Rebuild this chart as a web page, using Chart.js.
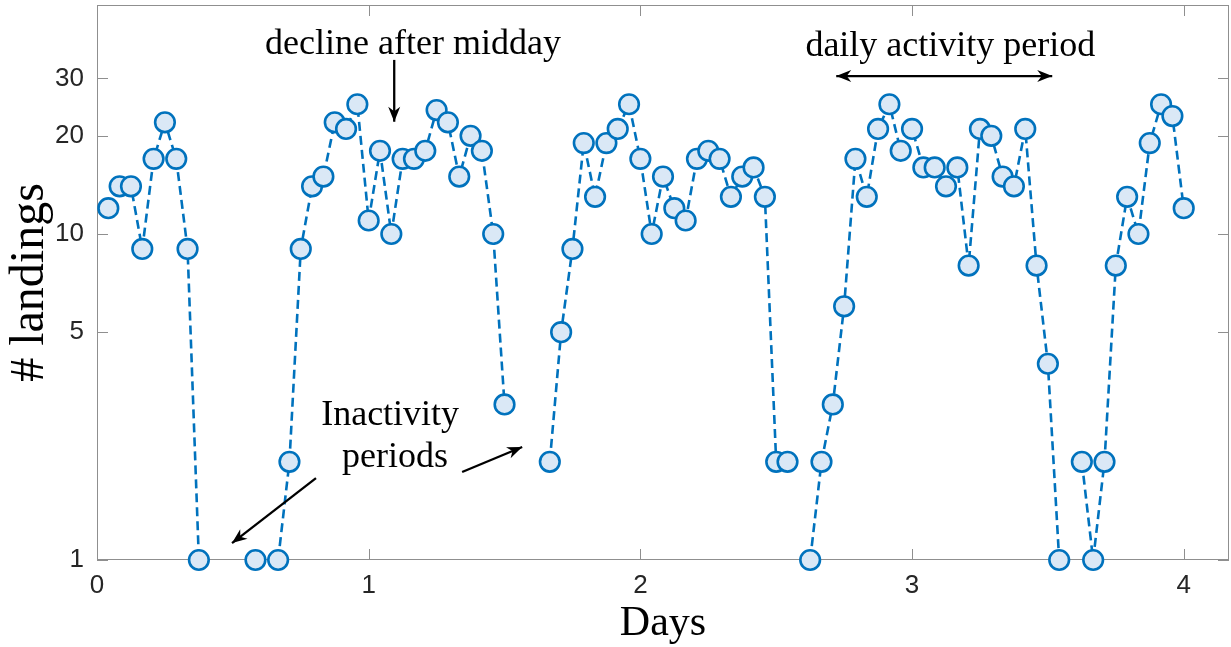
<!DOCTYPE html>
<html>
<head>
<meta charset="utf-8">
<script src="https://cdn.jsdelivr.net/npm/chart.js@4.4.1/dist/chart.umd.min.js"></script>
<style>
  html, body { margin: 0; padding: 0; background: #fff; }
  #wrap { width: 1231px; height: 647px; }
</style>
</head>
<body>
<div id="wrap"><canvas id="landingsChart" width="1231" height="647"></canvas></div>
<script>
// hour index since start, landings in that hour (null = no landing, left out on the log axis)
const hours = [
  1, 2, 3, 4, 5, 6, 7, 8, 9, 10, 11, 12, 13, 14, 15, 16, 17, 18, 19, 20, 21, 22, 23, 24,
  25, 26, 27, 28, 29, 30, 31, 32, 33, 34, 35, 36, 37, 38, 39, 40, 41, 42, 43, 44, 45, 46, 47, 48,
  49, 50, 51, 52, 53, 54, 55, 56, 57, 58, 59, 60, 61, 62, 63, 64, 65, 66, 67, 68, 69, 70, 71, 72,
  73, 74, 75, 76, 77, 78, 79, 80, 81, 82, 83, 84, 85, 86, 87, 88, 89, 90, 91, 92, 93, 94, 95, 96
];
const landings = [
  12, 14, 14, 9, 17, 22, 17, 9, 1, null, null, null, null, 1, null, 1, 2, 9, 14, 15, 22, 21, 25, 11,
  18, 10, 17, 17, 18, 24, 22, 15, 20, 18, 10, 3, null, null, null, 2, 5, 9, 19, 13, 19, 21, 25, 17,
  10, 15, 12, 11, 17, 18, 17, 13, 15, 16, 13, 2, 2, null, 1, 2, 3, 6, 17, 13, 21, 25, 18, 21,
  16, 16, 14, 16, 8, 21, 20, 15, 14, 21, 8, 4, 1, null, 2, 1, 2, 8, 13, 10, 19, 25, 23, 12
];
const xTicks = [0, 1, 2, 3, 4];
const yTicks = [1, 5, 10, 20, 30];

// annotations, in data units (days, landings)
const notes = [
  { text: 'decline after midday', day: 1.163, count: 38.0 },
  { text: 'daily activity period', day: 3.141, count: 37.5 },
  { text: 'Inactivity', day: 1.079, count: 2.77 },
  { text: 'periods', day: 1.097, count: 2.06 }
];
const arrows = [
  { from: [1.094, 34.2], to: [1.094, 22.1], both: false },
  { from: [2.721, 30.5], to: [3.516, 30.5], both: true },
  { from: [0.806, 1.784], to: [0.497, 1.127], both: false },
  { from: [1.344, 1.862], to: [1.565, 2.222], both: false }
];

const points = hours.map((h, i) => ({ x: h / 24, y: landings[i] }));

function arrowHead(ctx, x0, y0, x1, y1) {
  const ang = Math.atan2(y1 - y0, x1 - x0);
  const len = 15, half = 6;
  ctx.save();
  ctx.translate(x1, y1);
  ctx.rotate(ang);
  ctx.beginPath();
  ctx.moveTo(0, 0);
  ctx.lineTo(-len, -half);
  ctx.lineTo(-len * 0.7, 0);
  ctx.lineTo(-len, half);
  ctx.closePath();
  ctx.fill();
  ctx.restore();
}

// keep the plot box where the reference has it
function noPadding(s) {
  s.paddingTop = 0; s.paddingBottom = 0; s.paddingLeft = 0; s.paddingRight = 0;
}

const frame = {
  id: 'frame',
  beforeDatasetsDraw(chart) {
    const { ctx, chartArea: a, scales: { x, y } } = chart;
    const tick = 11;
    ctx.save();
    ctx.strokeStyle = '#8f8f8f';
    ctx.lineWidth = 1;
    ctx.strokeRect(a.left + 0.5, a.top + 0.5, a.right - a.left - 1, a.bottom - a.top - 1);
    ctx.beginPath();
    xTicks.forEach(v => {
      const px = Math.round(x.getPixelForValue(v)) + 0.5;
      ctx.moveTo(px, a.bottom); ctx.lineTo(px, a.bottom - tick);
      ctx.moveTo(px, a.top); ctx.lineTo(px, a.top + tick);
    });
    yTicks.forEach(v => {
      const py = Math.round(y.getPixelForValue(v)) + 0.5;
      ctx.moveTo(a.left, py); ctx.lineTo(a.left + tick, py);
      ctx.moveTo(a.right, py); ctx.lineTo(a.right - tick, py);
    });
    ctx.stroke();
    ctx.restore();
  },
  afterDatasetsDraw(chart) {
    const { ctx, scales: { x, y } } = chart;
    ctx.save();
    ctx.strokeStyle = '#000';
    ctx.fillStyle = '#000';
    ctx.lineWidth = 2.3;
    arrows.forEach(ar => {
      const x0 = x.getPixelForValue(ar.from[0]), y0 = y.getPixelForValue(ar.from[1]);
      const x1 = x.getPixelForValue(ar.to[0]), y1 = y.getPixelForValue(ar.to[1]);
      ctx.beginPath();
      ctx.moveTo(x0, y0);
      ctx.lineTo(x1, y1);
      ctx.stroke();
      arrowHead(ctx, x0, y0, x1, y1);
      if (ar.both) arrowHead(ctx, x1, y1, x0, y0);
    });
    ctx.font = '36px "Liberation Serif"';
    ctx.textAlign = 'center';
    ctx.textBaseline = 'middle';
    notes.forEach(n => {
      ctx.fillText(n.text, x.getPixelForValue(n.day), y.getPixelForValue(n.count));
    });
    ctx.restore();
  }
};

const tickFont = { family: '"Liberation Sans", Arial, sans-serif', size: 26 };

new Chart(document.getElementById('landingsChart'), {
  type: 'line',
  data: {
    datasets: [{
      label: '# landings',
      data: points,
      borderColor: '#0072BD',
      borderWidth: 2.6,
      borderDash: [9, 5],
      backgroundColor: '#DAE8F6',
      pointBackgroundColor: '#DAE8F6',
      pointBorderColor: '#0072BD',
      pointBorderWidth: 2.6,
      pointRadius: 9.8,
      spanGaps: false,
      tension: 0,
      clip: false
    }]
  },
  options: {
    responsive: false,
    animation: false,
    devicePixelRatio: 1,
    layout: { autoPadding: false, padding: { top: 5, right: 2, left: 0, bottom: 0 } },
    plugins: {
      legend: { display: false },
      tooltip: { enabled: false }
    },
    scales: {
      x: {
        type: 'linear',
        min: 0,
        max: 100 / 24,
        afterBuildTicks: s => { s.ticks = xTicks.map(v => ({ value: v })); },
        afterFit: s => { s.height = 87; noPadding(s); },
        grid: { display: false, drawTicks: false },
        border: { display: false },
        ticks: { font: tickFont, color: '#262626', padding: 10, maxRotation: 0, autoSkip: false, callback: v => String(v) },
        title: {
          display: true,
          text: 'Days',
          color: '#000',
          font: { family: '"Liberation Serif", serif', size: 42, lineHeight: 1.1 },
          padding: 0
        }
      },
      y: {
        type: 'logarithmic',
        min: 1,
        max: 50.4,
        afterBuildTicks: s => { s.ticks = yTicks.map(v => ({ value: v })); },
        afterFit: s => { s.width = 97; noPadding(s); },
        grid: { display: false, drawTicks: false },
        border: { display: false },
        ticks: { font: tickFont, color: '#262626', padding: 13, autoSkip: false, callback: v => String(v) },
        title: {
          display: true,
          text: '# landings',
          color: '#000',
          font: { family: '"Liberation Serif", serif', size: 48, lineHeight: 1.2 },
          padding: { top: 2, bottom: 0 }
        }
      }
    }
  },
  plugins: [frame]
});
</script>
</body>
</html>
